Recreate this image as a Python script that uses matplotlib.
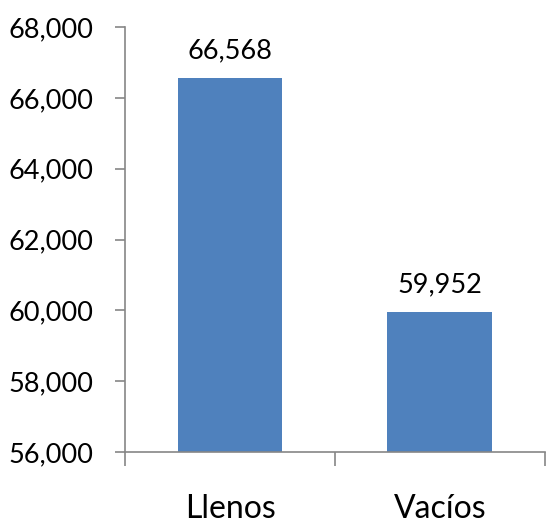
import matplotlib
matplotlib.use("Agg")
import matplotlib.pyplot as plt
from matplotlib.ticker import FuncFormatter, FixedLocator

categories = ["Llenos", "Vacíos"]
values = [66568, 59952]
yticks = [56000, 58000, 60000, 62000, 64000, 66000, 68000]

plt.rcParams['font.family'] = ['Lato', 'DejaVu Sans']

fig = plt.figure(figsize=(5.46, 5.23), dpi=100)
ax = fig.add_axes([0.229, 0.136, 0.769, 0.812])

x = range(len(categories))
bars = ax.bar(x, values, width=0.5, color="#4F81BD", zorder=2)
for i, v in enumerate(values):
    ax.text(i, v + 420, f"{v:,}", ha="center", va="bottom", fontsize=19.5)

ax.set_ylim(56000, 68000)
ax.set_xlim(-0.5, 1.5)
ax.set_yticks(yticks)
ax.yaxis.set_major_formatter(FuncFormatter(lambda v, p: f"{int(v):,}"))
ax.tick_params(axis="y", labelsize=19.5, length=7, width=1.2, color="#868686", pad=16)

# category boundary ticks, labels centered
ax.xaxis.set_major_locator(FixedLocator([-0.5, 0.5, 1.5]))
ax.xaxis.set_major_formatter(FuncFormatter(lambda v, p: ""))
ax.set_xticks([0, 1], minor=True)
ax.set_xticklabels(categories, minor=True, fontsize=23)
ax.tick_params(axis="x", which="major", length=10, width=1.2, color="#868686")
ax.tick_params(axis="x", which="minor", length=0, pad=30)

for s in ["top", "right"]:
    ax.spines[s].set_visible(False)
for s in ["left", "bottom"]:
    ax.spines[s].set_color("#868686")
    ax.spines[s].set_linewidth(1.2)

fig.savefig("out.png", dpi=100)
